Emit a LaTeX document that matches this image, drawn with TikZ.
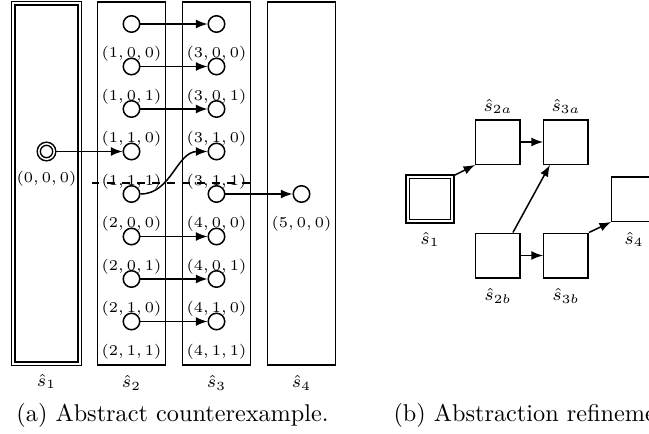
\documentclass[tikz,border=0pt]{standalone}
\usetikzlibrary{arrows, positioning}
\tikzset{
    stateNode/.style={circle, draw, semithick, fill=white, inner sep=0pt, minimum size=6.6pt},
    initNode/.style={circle, draw, semithick, double, double distance=0.6pt, inner sep=0pt, minimum size=6.2pt},
    absBox/.style={rectangle, draw, semithick, inner sep=0pt},
    initBox/.style={absBox, double, double distance=0.8pt},
    tupleLabel/.style={font=\fontsize{6.5}{8}\selectfont, label distance=1.8pt},
    boxLabel/.style={font=\scriptsize, label distance=0.5pt},
    boxLabelUp/.style={font=\scriptsize, label distance=-1.5pt},
    transEdge/.style={->, >=latex, semithick},
    cutLine/.style={thick, dashed},
    capText/.style={anchor=base west, inner sep=0pt, font=\fontsize{9.7}{12}\selectfont},
}
\newcommand{\drawTrans}[2]{
    \draw[transEdge] (#1) -- (#2);
}
\newcommand{\drawCurve}[2]{
    \draw[transEdge] (#1) to[out=0, in=180] (#2);
}

\begin{document}
\begin{tikzpicture}[x=0.4pt, y=-0.4pt]
    \useasboundingbox (0,0) rectangle (649,434);

    % (a) abstract counterexample
    \node[initBox, minimum width=26.4pt, minimum height=144pt, label={[boxLabel]below:$\hat{s}_1$}] (S1) at (46.5,183.5) {};
    \node[absBox, minimum width=27.2pt, minimum height=145.2pt, label={[boxLabel]below:$\hat{s}_2$}] (S2) at (131.5,183.5) {};
    \node[absBox, minimum width=27.2pt, minimum height=145.2pt, label={[boxLabel]below:$\hat{s}_3$}] (S3) at (216.5,183.5) {};
    \node[absBox, minimum width=27.2pt, minimum height=145.2pt, label={[boxLabel]below:$\hat{s}_4$}] (S4) at (301.5,183.5) {};

    \node[initNode, label={[tupleLabel, label distance=0.8pt]below:$(0,0,0)$}] (A0) at (46.5,151.5) {};

    \node[stateNode, label={[tupleLabel]below:$(1,0,0)$}] (P1) at (131.5,24) {};
    \node[stateNode, label={[tupleLabel]below:$(1,0,1)$}] (P2) at (131.5,66.5) {};
    \node[stateNode, label={[tupleLabel]below:$(1,1,0)$}] (P3) at (131.5,109) {};
    \node[stateNode, label={[tupleLabel]below:$(1,1,1)$}] (P4) at (131.5,151.5) {};
    \node[stateNode, label={[tupleLabel]below:$(2,0,0)$}] (P5) at (131.5,194) {};
    \node[stateNode, label={[tupleLabel]below:$(2,0,1)$}] (P6) at (131.5,236.5) {};
    \node[stateNode, label={[tupleLabel]below:$(2,1,0)$}] (P7) at (131.5,279) {};
    \node[stateNode, label={[tupleLabel]below:$(2,1,1)$}] (P8) at (131.5,321.5) {};

    \node[stateNode, label={[tupleLabel]below:$(3,0,0)$}] (Q1) at (216.5,24) {};
    \node[stateNode, label={[tupleLabel]below:$(3,0,1)$}] (Q2) at (216.5,66.5) {};
    \node[stateNode, label={[tupleLabel]below:$(3,1,0)$}] (Q3) at (216.5,109) {};
    \node[stateNode, label={[tupleLabel]below:$(3,1,1)$}] (Q4) at (216.5,151.5) {};
    \node[stateNode, label={[tupleLabel]below:$(4,0,0)$}] (Q5) at (216.5,194) {};
    \node[stateNode, label={[tupleLabel]below:$(4,0,1)$}] (Q6) at (216.5,236.5) {};
    \node[stateNode, label={[tupleLabel]below:$(4,1,0)$}] (Q7) at (216.5,279) {};
    \node[stateNode, label={[tupleLabel]below:$(4,1,1)$}] (Q8) at (216.5,321.5) {};

    \node[stateNode, label={[tupleLabel]below:$(5,0,0)$}] (R) at (301.5,194) {};

    \drawTrans{P1}{Q1}
    \drawTrans{P2}{Q2}
    \drawTrans{P3}{Q3}
    \drawTrans{A0}{P4}
    \drawCurve{P5}{Q4}
    \drawTrans{Q5}{R}
    \drawTrans{P6}{Q6}
    \drawTrans{P7}{Q7}
    \drawTrans{P8}{Q8}

    \coordinate (cutL) at (92,183);
    \coordinate (cutR) at (255,183);
    \draw[cutLine] (cutL) -- (cutR);

    % (b) abstraction refinement
    \node[initBox, minimum size=17.8pt, label={[boxLabel]below:$\hat{s}_1$}] (T1) at (430,199) {};
    \node[absBox, minimum size=17.8pt, label={[boxLabelUp]above:$\hat{s}_{2a}$}] (T2a) at (498,142) {};
    \node[absBox, minimum size=17.8pt, label={[boxLabelUp]above:$\hat{s}_{3a}$}] (T3a) at (566,142) {};
    \node[absBox, minimum size=17.8pt, label={[boxLabel]below:$\hat{s}_{2b}$}] (T2b) at (498,255.5) {};
    \node[absBox, minimum size=17.8pt, label={[boxLabel]below:$\hat{s}_{3b}$}] (T3b) at (566,255.5) {};
    \node[absBox, minimum size=17.8pt, label={[boxLabel]below:$\hat{s}_4$}] (T4) at (634,199) {};

    \drawTrans{T1.north east}{T2a.south west}
    \drawTrans{T2a}{T3a}
    \drawTrans{T2b.57}{T3a.235}
    \drawTrans{T2b}{T3b}
    \drawTrans{T3b.north east}{T4.south west}

    % captions
    \node[capText] (capA) at (16,421) {(a) Abstract counterexample.};
    \node[capText] (capB) at (393,421) {(b) Abstraction refinement.};

\end{tikzpicture}
\end{document}
